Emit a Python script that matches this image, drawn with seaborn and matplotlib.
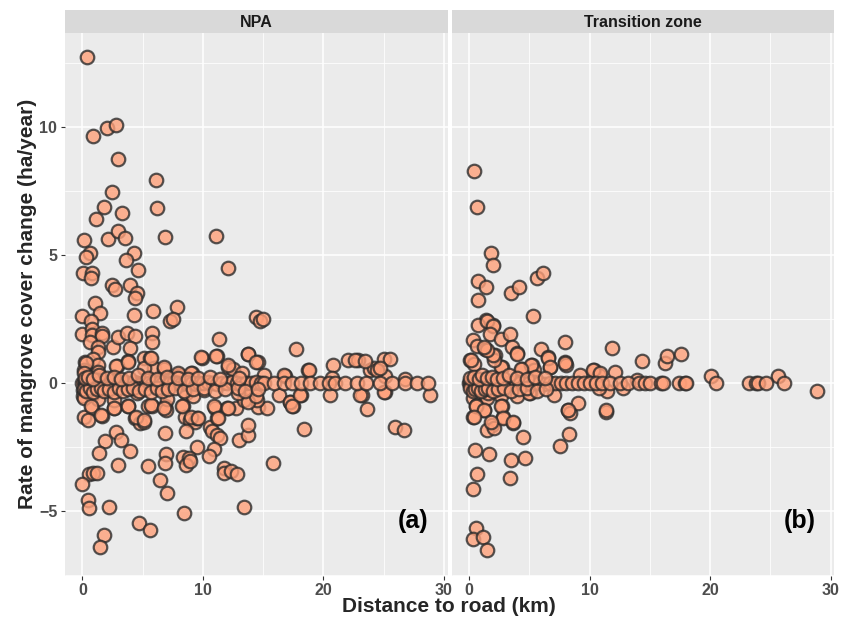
import pandas as pd
import numpy as np
import seaborn as sns
import matplotlib.pyplot as plt
from matplotlib.ticker import MultipleLocator

sns.set_theme(style="darkgrid")
plt.rcParams["font.family"] = ["Liberation Sans", "DejaVu Sans"]

panels = ["NPA", "Transition zone"]
panel_tags = ["(a)", "(b)"]

# NPA: scattered points
npa_x = [0.36, 0.91, 2.02, 2.80, 2.99, 6.09, 2.44, 1.75, 3.32, 6.18, 1.14, 0.14, 2.08, 2.96,
         3.57, 6.87, 11.11, 0.64, 0.30, 4.29, 3.63, 12.08, 0.08, 0.80, 0.69, 4.63, 2.49, 2.71,
         3.93, 4.52, 4.35, 1.02, 1.47, 0.00, 0.69, 4.27, 5.82, 7.84, 7.29, 7.51, 14.43, 14.71,
         14.99,
         0.00, 0.78, 0.78, 1.61, 1.66, 0.64, 1.25, 1.25, 2.52, 2.99, 3.68, 4.38, 3.96, 5.76,
         5.76, 3.82, 5.07, 5.62, 5.96, 2.85, 0.22, 0.14, 0.91, 1.33, 11.30, 11.16, 9.92, 13.74,
         14.57, 12.08, 12.47, 13.24, 15.04, 17.73, 18.70, 20.83, 22.08, 22.85, 23.88, 24.24,
         25.07, 25.15, 16.84, 20.72, 26.81, 6.73, 7.98, 9.09,
         0.28, 0.14, 1.25, 2.77, 3.74, 5.12, 5.68, 6.78, 7.89, 9.00, 9.83, 11.08, 12.05, 13.71,
         14.40, 18.77, 16.69, 22.59, 23.42, 25.56, 24.45, 24.73,
         0.08, 0.08, 0.78, 0.78, 0.14, 0.50, 1.61, 1.33, 2.44, 2.58, 2.58, 3.82, 4.38, 4.79,
         5.07, 4.52, 5.48, 5.76, 6.87, 6.95, 7.01, 6.87, 8.31, 8.61, 8.53, 8.95, 9.36, 9.50,
         9.17, 8.61, 9.50, 8.31, 8.81, 8.61, 8.95, 6.95, 6.82, 7.01, 6.45, 5.43, 2.91, 2.80,
         3.21, 3.91, 1.88, 1.41, 0.58, 0.91, 1.19, 0.00, 0.42, 0.55, 2.24, 4.68, 5.57, 8.45,
         13.38, 1.75, 1.47, 10.97, 10.55, 11.16, 10.75, 11.16, 11.39, 10.89, 10.47, 11.72,
         11.72, 12.33, 12.83, 13.02, 13.74, 13.74, 12.77, 11.99, 14.57, 15.32, 14.49, 15.82,
         17.20, 17.45, 18.14, 18.37, 20.58, 23.63, 23.21, 25.98, 26.68, 25.10, 28.81, 16.34,
         13.38, 13.52,
         0.14, 0.69, 1.52, 2.63, 3.74, 4.43, 5.12, 5.68, 6.78, 8.30, 9.00, 9.55, 10.10, 10.93,
         12.04, 12.87, 13.71, 14.40, 11.21, 17.25, 18.08, 17.39, 23.06, 25.00]
npa_y = [12.72, 9.65, 9.97, 10.08, 8.75, 7.93, 7.46, 6.89, 6.64, 6.85, 6.39, 5.60, 5.61, 5.94,
         5.66, 5.70, 5.72, 5.09, 4.93, 5.09, 4.80, 4.48, 4.28, 4.31, 4.09, 4.40, 3.83, 3.66,
         3.83, 3.50, 3.31, 3.11, 2.72, 2.62, 2.43, 2.64, 2.81, 2.96, 2.43, 2.49, 2.59, 2.43,
         2.51,
         1.90, 2.11, 1.88, 1.94, 1.84, 1.61, 1.42, 1.22, 1.42, 1.81, 1.94, 1.84, 1.35, 1.94,
         1.59, 0.86, 0.99, 0.96, 0.57, 0.66, 0.83, 0.51, 0.92, 0.70, 1.72, 1.05, 0.99, 1.13,
         0.83, 0.64, 0.53, 0.40, 0.31, 1.32, 0.51, 0.69, 0.90, 0.90, 0.51, 0.60,
         0.92, 0.27, 0.27, 0.18, 0.17, 0.53, 0.31, 0.40,
         0.77, 0.38, 0.44, 0.66, 0.83, 0.57, 0.96, 0.64, 0.38, 0.38, 1.03, 1.05, 0.70, 1.13,
         0.83, 0.51, 0.31, 0.90, 0.87, 0.94, 0.51, 0.60,
         -0.27, -0.53, -0.47, -0.99, -1.32, -1.45, -1.28, -0.64, -0.25, -0.99, -0.66, -0.90,
         -1.38, -1.58, -1.51, -0.38, -0.90, -0.92, -0.90, -1.05, -0.63, -1.94, -0.90, -0.40,
         -1.32, -1.45, -1.54, -1.38, -0.51, -1.88, -2.49, -2.88, -2.94, -3.20, -3.05, -2.77,
         -3.11, -4.31, -3.79, -3.23, -3.20, -1.93, -2.23, -2.64, -2.25, -2.75, -3.55, -3.53,
         -3.50, -3.96, -4.57, -4.90, -4.86, -5.46, -5.74, -5.09, -4.83, -5.94, -6.39, -0.99,
         -1.73, -1.38, -1.88, -2.03, -2.16, -2.58, -2.84, -3.33, -3.50, -3.44, -3.55, -2.23,
         -2.03, -1.64, -0.99, -0.99, -0.95, -0.99, -0.66, -3.11, -0.73, -0.92, -0.47, -1.80,
         -0.47, -1.03, -0.47, -1.73, -1.84, -0.34, -0.47, -0.47, -0.66, -0.25,
         -0.60, -0.92, -1.25, -0.99, -0.92, -1.32, -1.45, -0.86, -0.99, -0.92, -1.32, -1.38,
         -0.27, -0.92, -0.99, -0.40, -0.73, -0.53, -1.38, -0.73, -0.47, -0.92, -0.47, -0.34]

# NPA: the crowded band around zero
npa_band_x = [0.0, 0.1, 0.2, 0.3, 0.4, 0.5, 0.6, 0.7, 0.8, 0.9, 1.0, 1.1, 1.3, 1.4, 1.6, 1.8,
              1.9, 2.1, 2.3, 2.5, 2.7, 2.9, 3.1, 3.3, 3.5, 3.7, 3.9, 4.1, 4.3, 4.5, 4.8, 5.0,
              5.3, 5.5, 5.8, 6.1, 6.4, 6.7, 7.0, 7.3, 7.6, 7.9, 8.2, 8.5, 8.8, 9.1, 9.4, 9.7,
              10.0, 10.4, 10.8, 11.2, 11.6, 12.0, 12.4, 12.8, 13.2, 13.6, 14.0, 14.4, 14.8,
              15.1, 15.9, 16.7, 17.4, 18.1, 18.9, 19.7, 20.5, 21.0, 21.8, 22.8, 23.5, 24.7,
              25.7, 26.8, 27.8, 28.7,
              0.1, 0.3, 0.6, 0.9, 1.2, 1.5, 1.8, 2.2, 2.6, 3.0, 3.4, 3.8, 4.2, 4.7, 5.2, 5.7,
              6.2, 6.6, 7.1, 7.7, 8.4, 9.2, 10.1, 11.0, 11.8, 12.9, 13.5, 14.6,
              0.2, 0.5, 0.9, 1.4, 2.0, 2.6, 3.2, 3.9, 4.6, 5.4, 6.2, 7.0, 7.9, 8.8, 9.6, 10.6,
              11.4, 13.0]
npa_band_y = [0.0, 0.05, -0.05, 0.0, 0.1, 0.0, -0.1, 0.0, 0.05, 0.0, -0.05, 0.0, 0.1, 0.0,
              -0.1, 0.0, 0.05, 0.0, -0.05, 0.0, 0.1, 0.0, -0.05, 0.0, 0.05, 0.0, -0.1, 0.0,
              0.05, 0.0, -0.05, 0.0, 0.1, 0.0, -0.05, 0.0, 0.05, 0.0, -0.1, 0.0, 0.05, 0.0,
              -0.05, 0.0, 0.05, 0.0, -0.05, 0.0, 0.0, 0.05, 0.0, -0.05, 0.0, 0.0, 0.05, 0.0,
              -0.05, 0.0, 0.0, 0.05, 0.0, 0.0, 0.0, 0.0, 0.0, 0.0, 0.0, 0.0, 0.0, 0.0, 0.0,
              0.0, 0.0, 0.0, 0.0, 0.0, 0.0, 0.0,
              -0.25, -0.3, -0.2, -0.35, -0.25, -0.2, -0.3, -0.25, -0.35, -0.2, -0.3, -0.25,
              -0.2, -0.3, -0.25, -0.35, -0.2, -0.3, -0.25, -0.2, -0.3, -0.25, -0.2, -0.3,
              -0.25, -0.2, -0.3, -0.25,
              0.2, 0.25, 0.15, 0.3, 0.2, 0.25, 0.15, 0.2, 0.3, 0.2, 0.15, 0.25, 0.2, 0.15,
              0.2, 0.25, 0.15, 0.2]

# Transition zone: scattered points
tz_x = [0.42, 0.67, 1.83, 2.00, 0.75, 1.39, 0.72, 3.44, 4.14, 5.61, 6.11, 5.33, 1.39, 0.75,
        1.94,
        1.44, 2.00, 1.72, 0.33, 0.69, 1.31, 2.61, 3.39, 3.53, 3.94, 2.14, 5.97, 7.92, 11.86,
        6.53, 7.97, 8.03, 6.72, 0.06, 0.42, 2.69, 4.42, 5.19, 5.42, 9.22, 10.33, 10.75, 12.08,
        14.36, 16.22, 16.44, 17.61, 20.11, 25.61, 13.89, 28.86,
        3.97, 6.53, 6.67, 7.92, 10.28, 10.83, 5.14, 4.31, 2.64, 0.14, 2.08, 1.94, 1.50, 1.20,
        0.19, 0.33, 0.61, 0.53, 1.25, 0.33, 1.44, 1.58, 2.64, 2.69, 2.83, 1.86, 1.44, 2.06,
        3.67, 3.94, 5.06, 7.08, 8.19, 8.33, 9.03, 11.39, 11.44, 10.75, 12.78, 4.44, 0.47,
        1.67, 3.44, 4.64, 3.39, 0.67, 0.33, 7.50, 8.25, 0.53, 0.28, 1.17, 1.44,
        0.56, 1.25, 0.42, 2.64, 2.78, 3.61, 5.00, 1.81, 8.20, 11.39]
tz_y = [8.28, 6.86, 5.07, 4.61, 4.00, 3.76, 3.22, 3.53, 3.75, 4.09, 4.28, 2.63, 2.46, 2.27,
        2.27,
        2.43, 2.23, 1.90, 1.68, 1.46, 1.33, 1.72, 1.90, 1.42, 1.16, 1.09, 1.32, 1.61, 1.38,
        1.00, 0.83, 0.70, 0.64, 0.90, 0.74, 0.61, 0.55, 0.70, 0.51, 0.31, 0.51, 0.31, 0.42,
        0.86, 0.77, 1.05, 1.13, 0.27, 0.27, 0.12, -0.30,
        1.13, 0.96, 0.64, 0.77, 0.51, 0.38, 0.70, 0.53, 0.64, 0.90, 0.90, 1.09, 1.29, 1.42,
        -0.14, -0.60, -0.86, -0.92, -1.05, -1.32, -0.57, -0.40, -0.53, -0.92, -1.34, -1.64,
        -1.84, -1.77, -1.58, -0.53, -0.38, -0.47, -1.05, -1.16, -0.79, -1.12, -0.30, -0.21,
        -0.21, -2.12, -2.62, -2.79, -3.01, -2.92, -3.70, -3.57, -4.14, -2.46, -2.01, -5.68,
        -6.11, -6.00, -6.53,
        -0.92, -1.05, -1.32, -0.92, -1.38, -1.51, -0.40, -1.51, -1.05, -1.05]

# Transition zone: the crowded band around zero
tz_band_x = [0.0, 0.1, 0.2, 0.3, 0.4, 0.5, 0.6, 0.7, 0.8, 0.9, 1.0, 1.1, 1.2, 1.3, 1.5, 1.7,
             1.9, 2.1, 2.3, 2.5, 2.7, 3.0, 3.3, 3.6, 3.9, 4.2, 4.6, 5.0, 5.4, 5.8, 6.2, 6.7,
             7.1, 7.6, 8.0, 8.5, 9.0, 9.5, 10.0, 10.5, 11.0, 11.7, 12.5, 13.2, 14.1, 14.6,
             15.0, 15.9, 16.1, 17.4, 17.9, 18.0, 20.5, 23.2, 23.8, 24.0, 24.6, 26.1,
             0.1, 0.3, 0.5, 0.7, 1.0, 1.3, 1.6, 2.0, 2.4, 2.9, 3.5, 4.1, 4.8, 5.6, 6.4,
             0.1, 0.4, 0.8, 1.1, 1.5, 1.9, 2.3, 2.8, 3.3, 4.0, 4.8, 5.5, 6.3]
tz_band_y = [0.0, 0.05, -0.05, 0.0, 0.1, 0.0, -0.1, 0.0, 0.05, 0.0, -0.05, 0.0, 0.1, 0.0,
             -0.05, 0.0, 0.05, 0.0, -0.05, 0.0, 0.05, 0.0, -0.05, 0.0, 0.05, 0.0, -0.05, 0.0,
             0.05, 0.0, -0.05, 0.0, 0.0, 0.0, 0.0, 0.0, 0.0, 0.0, 0.0, 0.0, 0.0, 0.0, 0.0,
             0.0, 0.0, 0.0, 0.0, 0.0, 0.0, 0.0, 0.0, 0.0, 0.0, 0.0, 0.0, 0.0, 0.0, 0.0,
             -0.2, -0.3, -0.25, -0.2, -0.3, -0.25, -0.2, -0.3, -0.25, -0.2, -0.3, -0.25,
             -0.2, -0.3, -0.25,
             0.2, 0.25, 0.15, 0.3, 0.2, 0.25, 0.15, 0.2, 0.3, 0.2, 0.15, 0.25, 0.2]

npa = pd.DataFrame({"dist": npa_x + npa_band_x, "rate": npa_y + npa_band_y})
npa["zone"] = panels[0]
tz = pd.DataFrame({"dist": tz_x + tz_band_x, "rate": tz_y + tz_band_y})
tz["zone"] = panels[1]
data = pd.concat([npa, tz], ignore_index=True)

fig = plt.figure(figsize=(8.51, 6.20), dpi=100)
fig.patch.set_facecolor("white")

W, H = 851, 620
panel_left = [65, 451.7]
panel_w = 382.5
panel_top, panel_bottom = 32.7, 575.7
strip_top = 10

for i, zone in enumerate(panels):
    ax = fig.add_axes([panel_left[i] / W, 1 - panel_bottom / H,
                       panel_w / W, (panel_bottom - panel_top) / H])
    ax.set_facecolor("#EBEBEB")
    sns.scatterplot(
        x="dist",
        y="rate",
        data=data[data["zone"] == zone],
        s=95,
        color="#FFA07A",
        edgecolor="#2b2b2b",
        linewidth=1.6,
        alpha=0.8,
        ax=ax,
        zorder=3,
    )
    ax.set_xlim(-1.45, 30.3)
    ax.set_ylim(-7.53, 13.68)
    ax.xaxis.set_major_locator(MultipleLocator(10))
    ax.xaxis.set_minor_locator(MultipleLocator(5))
    ax.yaxis.set_major_locator(MultipleLocator(5))
    ax.yaxis.set_minor_locator(MultipleLocator(2.5))
    ax.grid(which="major", color="white", linewidth=1.1)
    ax.grid(which="minor", color="white", linewidth=0.55)
    ax.set_axisbelow(True)
    for sp in ax.spines.values():
        sp.set_visible(False)
    ax.tick_params(axis="both", which="major", length=3, width=0.8, color="#333333",
                   labelsize=11.5, labelcolor="#4D4D4D", pad=2.5, bottom=True, left=(i == 0))
    ax.tick_params(which="minor", length=0)
    for lab in ax.get_xticklabels() + ax.get_yticklabels():
        lab.set_fontweight("bold")
    if i > 0:
        ax.set_yticklabels([])
    ax.set_xlabel("")
    ax.set_ylabel("")
    ax.text(0.91, 0.1, panel_tags[i], transform=ax.transAxes, ha="center", va="center",
            fontsize=18, fontweight="bold", color="black")

    strip = fig.add_axes([panel_left[i] / W, 1 - panel_top / H,
                          panel_w / W, (panel_top - strip_top) / H])
    strip.set_facecolor("#D9D9D9")
    strip.set_xticks([])
    strip.set_yticks([])
    for sp in strip.spines.values():
        sp.set_visible(False)
    strip.text(0.5, 0.45, zone, transform=strip.transAxes, ha="center", va="center",
               fontsize=11.5, fontweight="bold", color="#1a1a1a")

fig.text(449 / W, 1 - 607 / H, "Distance to road (km)", ha="center", va="center",
         fontsize=15, fontweight="bold")
fig.text(28 / W, 1 - 304 / H, "Rate of mangrove cover change (ha/year)", ha="center",
         va="center", rotation=90, fontsize=15, fontweight="bold")

fig.savefig("out.png", dpi=100)
